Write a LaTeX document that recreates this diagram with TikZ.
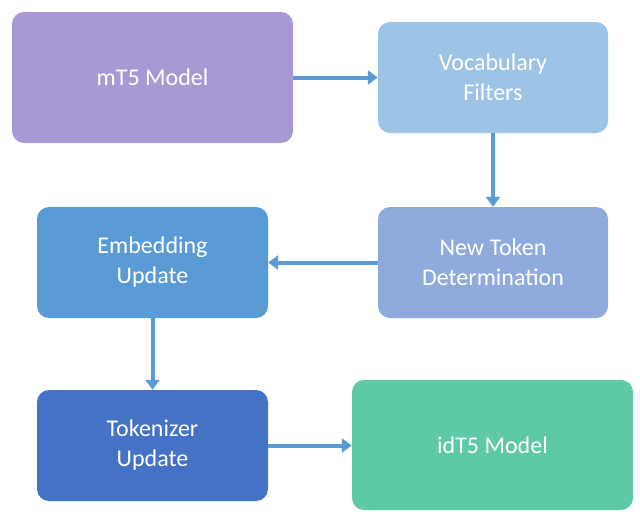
\documentclass[tikz,border=0pt]{standalone}
\usepackage{fontspec}
\setmainfont{Carlito}
\usetikzlibrary{arrows.meta}
\definecolor{cpurple}{HTML}{A899D5}
\definecolor{cvocab}{HTML}{9DC3E6}
\definecolor{cnew}{HTML}{8FAADC}
\definecolor{cemb}{HTML}{5B9BD5}
\definecolor{ctok}{HTML}{4472C4}
\definecolor{cid}{HTML}{5DC9A6}
\definecolor{carrow}{HTML}{5B9BD5}
\tikzset{
  box/.style={rounded corners=12pt, draw=none, text=white, align=center, font=\fontsize{24}{30}\selectfont, inner sep=0pt},
  arr/.style={draw=carrow, line width=4pt, -{Triangle[length=10pt,width=14pt]}}
}
\begin{document}
\begin{tikzpicture}[x=1pt,y=1pt]
\useasboundingbox (0,0) rectangle (640,-522);
\node[box, fill=cpurple, minimum width=281pt, minimum height=131pt] (mt5) at (152.5,-77.5) {mT5 Model};
\node[box, fill=cvocab, minimum width=230pt, minimum height=111pt] (voc) at (493,-77.5) {Vocabulary\\Filters};
\node[box, fill=cnew, minimum width=230pt, minimum height=111pt] (new) at (493,-262.5) {New Token\\Determination};
\node[box, fill=cemb, minimum width=231pt, minimum height=111pt] (emb) at (152.5,-262.5) {Embedding\\Update};
\node[box, fill=ctok, minimum width=231pt, minimum height=111pt] (tok) at (152.5,-445.5) {Tokenizer\\Update};
\node[box, fill=cid, minimum width=281pt, minimum height=130pt] (id) at (492.5,-445) {idT5 Model};
\draw[arr] (mt5.east) -- (voc.west);
\draw[arr] (voc.south) -- (new.north);
\draw[arr] (new.west) -- (emb.east);
\draw[arr] (emb.south) -- (tok.north);
\draw[arr] (tok.east) -- (id.west |- tok.east);
\end{tikzpicture}
\end{document}
